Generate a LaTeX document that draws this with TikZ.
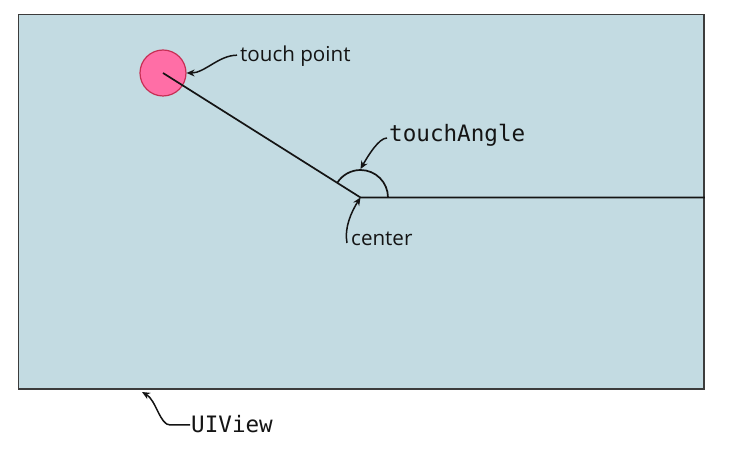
\documentclass[tikz,border=0pt]{standalone}
\usepackage{fontspec}
\setmainfont{Open Sans}
\setmonofont{DejaVu Sans Mono}
\usetikzlibrary{arrows.meta}
\definecolor{ViewFill}{HTML}{C3DBE2}
\definecolor{ViewEdge}{HTML}{3C3C3C}
\definecolor{TouchFill}{HTML}{FF6EA6}
\definecolor{TouchEdge}{HTML}{C72F55}
\definecolor{InkBlack}{HTML}{141414}

\begin{document}
\begin{tikzpicture}[x=1pt,y=1pt,
    callout/.style={draw=InkBlack,line width=1.5pt,-{Stealth[length=8pt,width=7pt]}},
    sanstag/.style={text=InkBlack,inner sep=0pt,anchor=base west,font=\fontsize{20.6}{24}\selectfont},
    monotag/.style={text=InkBlack,inner sep=0pt,anchor=base west,font=\fontsize{22.6}{26}\selectfont\ttfamily}]
  \useasboundingbox (0,0) rectangle (737,450);
  \node[draw=ViewEdge,fill=ViewFill,line width=1.8pt,minimum width=685.5pt,minimum height=374.5pt,
        inner sep=0pt,anchor=south west] (view) at (17.5,60) {};
  \coordinate (center) at (360.5,252.5);
  \node[circle,draw=TouchEdge,fill=TouchFill,line width=1.2pt,minimum size=46pt,inner sep=0pt] (touch) at (163,377) {};
  \draw[InkBlack,line width=1.7pt] (touch.center) -- (center) -- (view.east |- center);
  \draw[InkBlack,line width=1.7pt] ([shift={(0:27.5)}]center) arc[start angle=0,end angle=147.7,radius=27.5];
  \coordinate (arctop) at ([shift={(90:28.5)}]center);
  \coordinate (viewtip) at (142,58);
  % labels
  \node[sanstag] (tptext) at (240,388.3) {touch point};
  \node[monotag] (angletext) at (389,308) {touchAngle};
  \node[sanstag] (centertext) at (351,204) {center};
  \node[monotag] (viewtext) at (191,17) {UIView};
  % callouts
  \draw[callout] ([shift={(-3,6.5)}]tptext.base west) .. controls +(-18,0) and +(18,0) .. (touch.east);
  \draw[callout] ([shift={(-2,4)}]angletext.base west) .. controls +(-8,0) and +(8,14) .. (arctop);
  \draw[callout] ([shift={(-4,3)}]centertext.base west) .. controls +(-3,15) and +(-9,-14) .. (center);
  \draw[callout] ([shift={(-1,8)}]viewtext.base west) -- (170,25) .. controls (160,25) and (156,50) .. (viewtip);
\end{tikzpicture}
\end{document}
